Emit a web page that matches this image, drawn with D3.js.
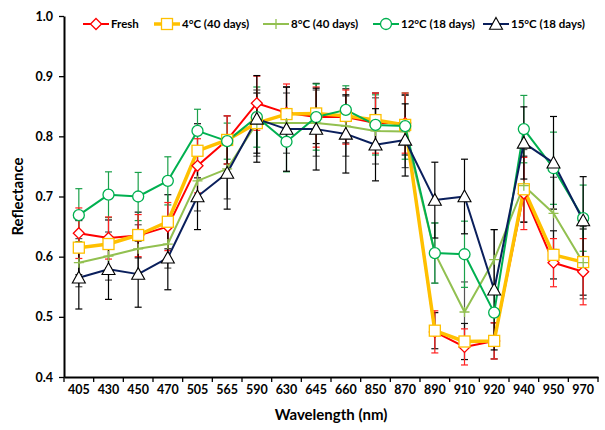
<!DOCTYPE html>
<html><head><meta charset="utf-8">
<script src="https://cdn.jsdelivr.net/npm/d3@7"></script>
<style>body{margin:0;background:#fff}svg{display:block}text{font-family:Lato,"Open Sans",sans-serif;font-weight:bold}</style>
</head><body><svg id="c" width="605" height="430"></svg>
<script>
const categories = ["405","430","450","470","505","565","590","630","645","660","850","870","890","910","920","940","950","970"];
const seriesNames = ["Fresh","4°C (40 days)","8°C (40 days)","12°C (18 days)","15°C (18 days)"];
const fresh = [0.639,0.631,0.635,0.650,0.751,0.794,0.855,0.839,0.832,0.832,0.822,0.822,0.475,0.450,0.460,0.705,0.590,0.575];
const c4 =    [0.615,0.621,0.636,0.658,0.776,0.794,0.822,0.837,0.838,0.834,0.827,0.819,0.477,0.459,0.460,0.712,0.603,0.591];
const c8 =    [0.590,0.601,0.613,0.621,0.726,0.746,0.822,0.822,0.822,0.817,0.809,0.808,0.606,0.508,0.595,0.718,0.672,0.590];
const c12 =   [0.669,0.703,0.700,0.726,0.809,0.792,0.832,0.791,0.832,0.844,0.819,0.817,0.606,0.604,0.507,0.812,0.747,0.664];
const c15 =   [0.565,0.579,0.571,0.598,0.700,0.739,0.829,0.812,0.812,0.804,0.786,0.794,0.694,0.700,0.545,0.789,0.756,0.660];
const errFresh = [0.042,0.035,0.035,0.040,0.045,0.040,0.045,0.048,0.050,0.045,0.050,0.050,0.035,0.030,0.030,0.060,0.040,0.055];
const err4 =     [0.045,0.040,0.038,0.045,0.045,0.040,0.050,0.045,0.050,0.045,0.045,0.050,0.030,0.030,0.030,0.055,0.040,0.055];
const err8 =     [0.040,0.040,0.040,0.040,0.050,0.050,0.055,0.050,0.055,0.050,0.055,0.060,0.050,0.050,0.050,0.060,0.060,0.060];
const err12 =    [0.044,0.038,0.040,0.040,0.036,0.030,0.050,0.050,0.055,0.040,0.050,0.055,0.050,0.055,0.040,0.056,0.060,0.055];
const err15 =    [0.052,0.050,0.055,0.053,0.055,0.060,0.072,0.070,0.068,0.065,0.060,0.060,0.063,0.062,0.100,0.060,0.077,0.073];
const yTicks = [0.4,0.5,0.6,0.7,0.8,0.9,1.0];

const values = [fresh,c4,c8,c12,c15];
const errs = [errFresh,err4,err8,err12,err15];
const colors = ["#ff0000","#ffc000","#92c050","#00b050","#0a1f5c"];
const errColors = ["#ff2020","#111111","#555555","#1aa04a","#000000"];
const widths = [2,3.5,2,2,2];
const markers = ["diamond","square","plus","circle","triangle"];

const svg = d3.select("#c");
const m = {l:64, r:598, t:16, b:377};
const x = d3.scaleBand().domain(categories).range([m.l, m.r]);
const y = d3.scaleLinear().domain([0.4,1.0]).range([m.b, m.t]);

function drawMarker(g, type, cx, cy, color){
  if(type==="diamond"){
    g.append("path").attr("d", d3.symbol(d3.symbolDiamond2 || d3.symbolDiamond, 60)()).attr("transform",`translate(${cx},${cy}) rotate(45)`)
  }
  if(type==="diamond"){ g.select("path:last-child").remove();
    const s=5.5; g.append("path").attr("d",`M${cx},${cy-s}L${cx+s},${cy}L${cx},${cy+s}L${cx-s},${cy}Z`).attr("fill","#fff").attr("stroke",color).attr("stroke-width",1.3);}
  else if(type==="square"){ const s=5.5; g.append("rect").attr("x",cx-s).attr("y",cy-s).attr("width",2*s).attr("height",2*s).attr("fill","#fff").attr("stroke",color).attr("stroke-width",1.3);}
  else if(type==="plus"){ const s=5; g.append("path").attr("d",`M${cx-s},${cy}H${cx+s}M${cx},${cy-s}V${cy+s}`).attr("stroke",color).attr("stroke-width",1.3).attr("fill","none");}
  else if(type==="circle"){ g.append("circle").attr("cx",cx).attr("cy",cy).attr("r",5.5).attr("fill","#fff").attr("stroke",color).attr("stroke-width",1.3);}
  else if(type==="triangle"){ const s=6.5; g.append("path").attr("d",`M${cx},${cy-s}L${cx+s},${cy+s*0.8}L${cx-s},${cy+s*0.8}Z`).attr("fill","#fff").attr("stroke","#000").attr("stroke-width",1.1);}
}

// error bars
const eg = svg.append("g");
[2,1,3,0,4].forEach(si=>{
  values[si].forEach((v,i)=>{
    const cx = x(categories[i]) + x.bandwidth()/2;
    const e = errs[si][i];
    const c = errColors[si];
    eg.append("line").attr("x1",cx).attr("x2",cx).attr("y1",y(v-e)).attr("y2",y(v+e)).attr("stroke",c).attr("stroke-width",1.2);
    [v-e,v+e].forEach(t=>eg.append("line").attr("x1",cx-3.5).attr("x2",cx+3.5).attr("y1",y(t)).attr("y2",y(t)).attr("stroke",c).attr("stroke-width",1.2));
  });
});

// lines
const line = d3.line().x((d,i)=>x(categories[i])+x.bandwidth()/2).y(d=>y(d));
values.forEach((vals,si)=>{
  svg.append("path").datum(vals).attr("d",line).attr("fill","none").attr("stroke",colors[si]).attr("stroke-width",widths[si]).attr("stroke-linejoin","round");
});
values.forEach((vals,si)=>{
  const g = svg.append("g");
  vals.forEach((v,i)=>drawMarker(g, markers[si], x(categories[i])+x.bandwidth()/2, y(v), colors[si]));
});

// axes
const yAxis = d3.axisLeft(y).tickValues(yTicks).tickFormat(d3.format(".1f")).tickSize(5).tickSizeOuter(0);
const yg = svg.append("g").attr("transform",`translate(${m.l},0)`).call(yAxis);
yg.select(".domain").attr("stroke","#000").attr("stroke-width",2);
yg.selectAll(".tick line").attr("stroke","#000").attr("stroke-width",1.3);
yg.selectAll(".tick text").attr("font-size",12.5).attr("fill","#000").attr("font-family","Lato, sans-serif").attr("font-weight","bold").attr("dx",-3);

const xAxis = d3.axisBottom(x).tickSize(0).tickSizeOuter(0);
const xg = svg.append("g").attr("transform",`translate(0,${m.b})`).call(xAxis);
xg.select(".domain").attr("stroke","#000").attr("stroke-width",2);
xg.selectAll(".tick text").attr("font-size",12.5).attr("fill","#000").attr("font-family","Lato, sans-serif").attr("font-weight","bold").attr("dy",14);
// tick marks between categories
categories.forEach((c,i)=>{
  const tx = x(c) + x.bandwidth();
  svg.append("line").attr("x1",tx).attr("x2",tx).attr("y1",m.b).attr("y2",m.b+5).attr("stroke","#000").attr("stroke-width",1.3);
});
svg.append("line").attr("x1",m.l).attr("x2",m.l).attr("y1",m.b).attr("y2",m.b+5).attr("stroke","#000").attr("stroke-width",1.3);

svg.append("text").attr("x",(m.l+m.r)/2).attr("y",420).attr("text-anchor","middle").attr("font-size",15).text("Wavelength (nm)");
svg.append("text").attr("transform",`translate(23,${(m.t+m.b)/2}) rotate(-90)`).attr("text-anchor","middle").attr("font-size",15).text("Reflectance");

// legend
const legX = [83,154,263,373,483];
seriesNames.forEach((n,si)=>{
  const g = svg.append("g");
  const ly = 24;
  g.append("line").attr("x1",legX[si]).attr("x2",legX[si]+26).attr("y1",ly).attr("y2",ly).attr("stroke",colors[si]).attr("stroke-width",widths[si]);
  drawMarker(g, markers[si], legX[si]+13, ly, colors[si]);
  g.append("text").attr("x",legX[si]+28).attr("y",ly+4).attr("font-size",11.5).text(n);
});
</script></body></html>
